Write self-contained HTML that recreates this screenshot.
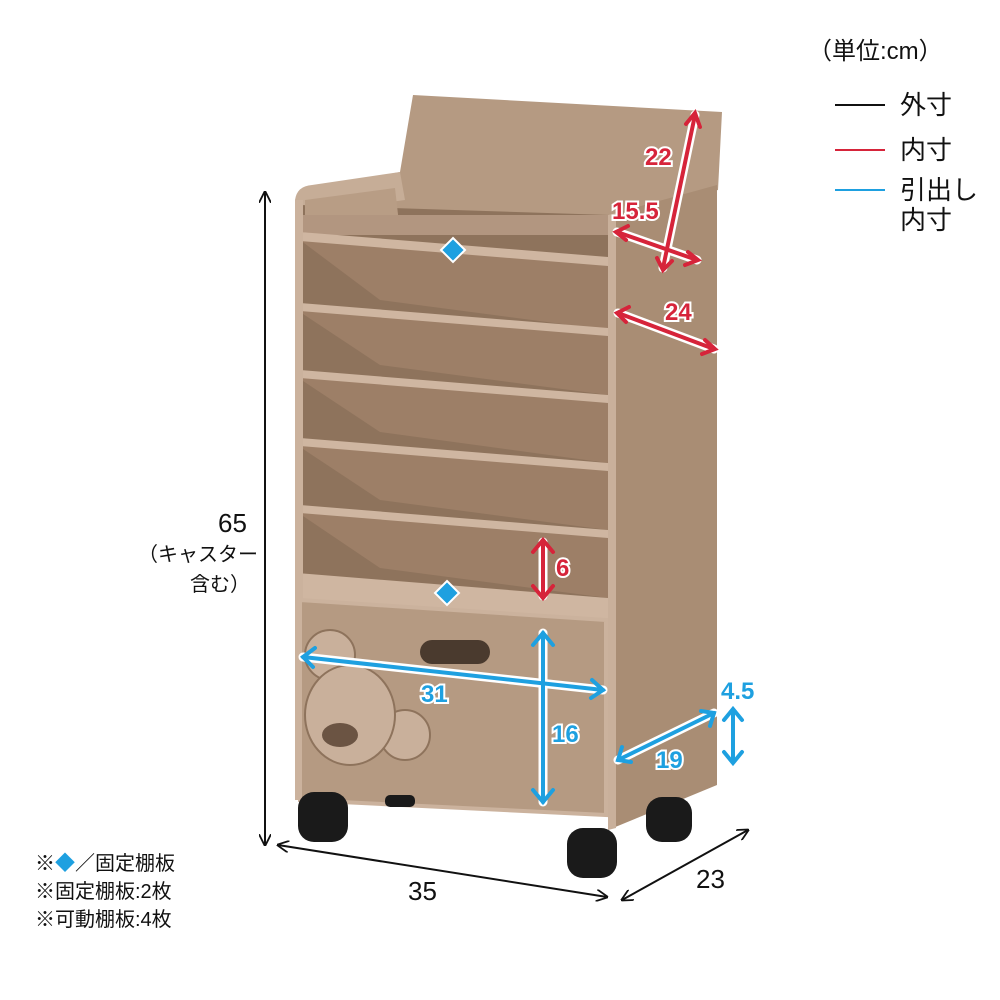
<!DOCTYPE html>
<html><head><meta charset="utf-8"><style>
html,body{margin:0;padding:0;background:#fff;}
svg{display:block;}
text{font-family:"Liberation Sans","Noto Sans CJK JP",sans-serif;}
</style></head><body>
<svg width="1000" height="1000" viewBox="0 0 1000 1000" xmlns="http://www.w3.org/2000/svg">
<defs>
<marker id="ak" viewBox="0 0 10 10" refX="9" refY="5" markerWidth="6" markerHeight="6" orient="auto-start-reverse"><path d="M0,0 L10,5 L0,10" fill="none" stroke="#111" stroke-width="1.5"/></marker>
</defs>
<polygon points="413,95 722,112 718,190 610,218 300,218 305,190 400,172" fill="#b59a82"/>
<path d="M295,800 L295,200 Q297,186 312,185 L400,172 L405,200 L300,215 Z" fill="#c6ad97"/>
<polygon points="300,205 610,215 610,630 300,630" fill="#8e735c"/>
<polygon points="305,200 395,188 400,232 305,232" fill="#b89d85"/>
<rect x="300" y="215" width="310" height="20" fill="#b29680"/>
<g>
<polygon points="300,232 608,262 608,330 380,300 300,240" fill="#9d7f67"/>
<polygon points="300,232 608,257 608,266 300,241" fill="#cfb6a1"/>
<polygon points="300,305 608,330 608,395 380,365 300,312" fill="#9d7f67"/>
<polygon points="300,303 608,328 608,336 300,311" fill="#cfb6a1"/>
<polygon points="300,372 608,397 608,463 380,432 300,379" fill="#9d7f67"/>
<polygon points="300,370 608,395 608,403 300,378" fill="#cfb6a1"/>
<polygon points="300,440 608,465 608,530 380,500 300,447" fill="#9d7f67"/>
<polygon points="300,438 608,463 608,471 300,446" fill="#cfb6a1"/>
<polygon points="300,507 608,532 608,598 380,568 300,514" fill="#9d7f67"/>
<polygon points="300,505 608,530 608,538 300,513" fill="#cfb6a1"/>
<polygon points="297,573 608,598 608,622 297,600" fill="#cfb6a1"/>
</g>
<rect x="295" y="200" width="8" height="600" fill="#cbb29d"/>
<polygon points="608,215 717,185 717,785 608,830" fill="#a98d74"/>
<polygon points="608,215 616,213 616,828 608,830" fill="#c9b09b"/>
<polygon points="300,600 606,620 606,815 300,800" fill="#b59a82" stroke="#cbb29d" stroke-width="4"/>
<rect x="420" y="640" width="70" height="24" rx="12" fill="#4a3a2e"/>
<g fill="#c9b09b" stroke="#8e735c" stroke-width="2">
<circle cx="330" cy="655" r="25"/>
<circle cx="405" cy="735" r="25"/>
<ellipse cx="350" cy="715" rx="45" ry="50"/>
</g>
<ellipse cx="340" cy="735" rx="18" ry="12" fill="#6b5443"/>
<g fill="#1a1a1a">
<rect x="298" y="792" width="50" height="50" rx="16"/>
<rect x="567" y="828" width="50" height="50" rx="16"/>
<rect x="646" y="797" width="46" height="45" rx="16"/>
<rect x="385" y="795" width="30" height="12" rx="5"/>
</g>
<g stroke="#111" stroke-width="2" fill="none">
<line x1="265" y1="192" x2="265" y2="845" marker-start="url(#ak)" marker-end="url(#ak)"/>
<line x1="278" y1="845" x2="607" y2="897" marker-start="url(#ak)" marker-end="url(#ak)"/>
<line x1="622" y1="900" x2="748" y2="830" marker-start="url(#ak)" marker-end="url(#ak)"/>
</g>
<g font-size="26" fill="#111">
<text x="218" y="532">65</text>
<text x="408" y="900">35</text>
<text x="696" y="888">23</text>
</g>
<g font-size="20" fill="#111">
<text x="138" y="561">（キャスター</text>
<text x="190" y="591">含む）</text>
<text x="808" y="59" font-size="24">（単位:cm）</text>
<text x="900" y="114" font-size="26">外寸</text>
<text x="900" y="159" font-size="26">内寸</text>
<text x="900" y="199" font-size="26">引出し</text>
<text x="900" y="229" font-size="26">内寸</text>
<text x="35" y="870" font-size="20">※<tspan fill="#1ea0e0">◆</tspan>／固定棚板</text>
<text x="35" y="898" font-size="20">※固定棚板:2枚</text>
<text x="35" y="926" font-size="20">※可動棚板:4枚</text>
</g>
<line x1="835" y1="105" x2="885" y2="105" stroke="#111" stroke-width="2"/>
<line x1="835" y1="150" x2="885" y2="150" stroke="#d6243a" stroke-width="2"/>
<line x1="835" y1="190" x2="885" y2="190" stroke="#1ea0e0" stroke-width="2"/>
<g stroke="#fff" stroke-width="9" fill="none" stroke-linecap="round">
<line x1="695" y1="115" x2="663" y2="268"/><line x1="617" y1="232" x2="697" y2="260"/>
<line x1="618" y1="313" x2="714" y2="349"/><line x1="543" y1="542" x2="543" y2="596"/>
</g>
<g stroke="#d6243a" stroke-width="4" fill="none" stroke-linecap="round">
<line x1="695" y1="115" x2="663" y2="268"/><polyline points="686,124 695,113 700,127"/><polyline points="657,258 663,270 672,261"/>
<line x1="617" y1="232" x2="697" y2="260"/><polyline points="628,226 616,232 626,240"/><polyline points="688,252 698,260 685,265"/>
<line x1="618" y1="313" x2="714" y2="349"/><polyline points="629,307 617,313 626,322"/><polyline points="705,340 715,349 702,354"/>
<line x1="543" y1="542" x2="543" y2="596"/><polyline points="533,552 543,540 553,552"/><polyline points="533,586 543,598 553,586"/>
</g>
<g font-size="24" fill="#d6243a" stroke="#fff" stroke-width="4" paint-order="stroke" font-weight="bold">
<text x="645" y="165">22</text><text x="612" y="219">15.5</text><text x="665" y="320">24</text><text x="556" y="576">6</text>
</g>
<g stroke="#fff" stroke-width="9" fill="none" stroke-linecap="round">
<line x1="303" y1="657" x2="603" y2="690"/><line x1="543" y1="633" x2="543" y2="802"/>
<line x1="618" y1="760" x2="714" y2="713"/><line x1="733" y1="710" x2="733" y2="762"/>
</g>
<g stroke="#1ea0e0" stroke-width="4" fill="none" stroke-linecap="round">
<line x1="303" y1="657" x2="603" y2="690"/><polyline points="315,648 303,657 313,667"/><polyline points="592,680 603,690 591,698"/>
<line x1="543" y1="633" x2="543" y2="802"/><polyline points="533,645 543,633 553,645"/><polyline points="533,790 543,802 553,790"/>
<line x1="618" y1="760" x2="714" y2="713"/><polyline points="622,747 618,760 631,762"/><polyline points="701,711 714,713 710,726"/>
<line x1="733" y1="710" x2="733" y2="762"/><polyline points="724,720 733,709 742,720"/><polyline points="724,752 733,763 742,752"/>
</g>
<g font-size="24" fill="#1ea0e0" stroke="#fff" stroke-width="4" paint-order="stroke" font-weight="bold">
<text x="421" y="702">31</text><text x="552" y="742">16</text><text x="656" y="768">19</text><text x="721" y="699">4.5</text>
</g>
<g fill="#1ea0e0" stroke="#fff" stroke-width="2">
<polygon points="453,238 465,250 453,262 441,250"/>
<polygon points="447,581 459,593 447,605 435,593"/>
</g>
</svg>
</body></html>
